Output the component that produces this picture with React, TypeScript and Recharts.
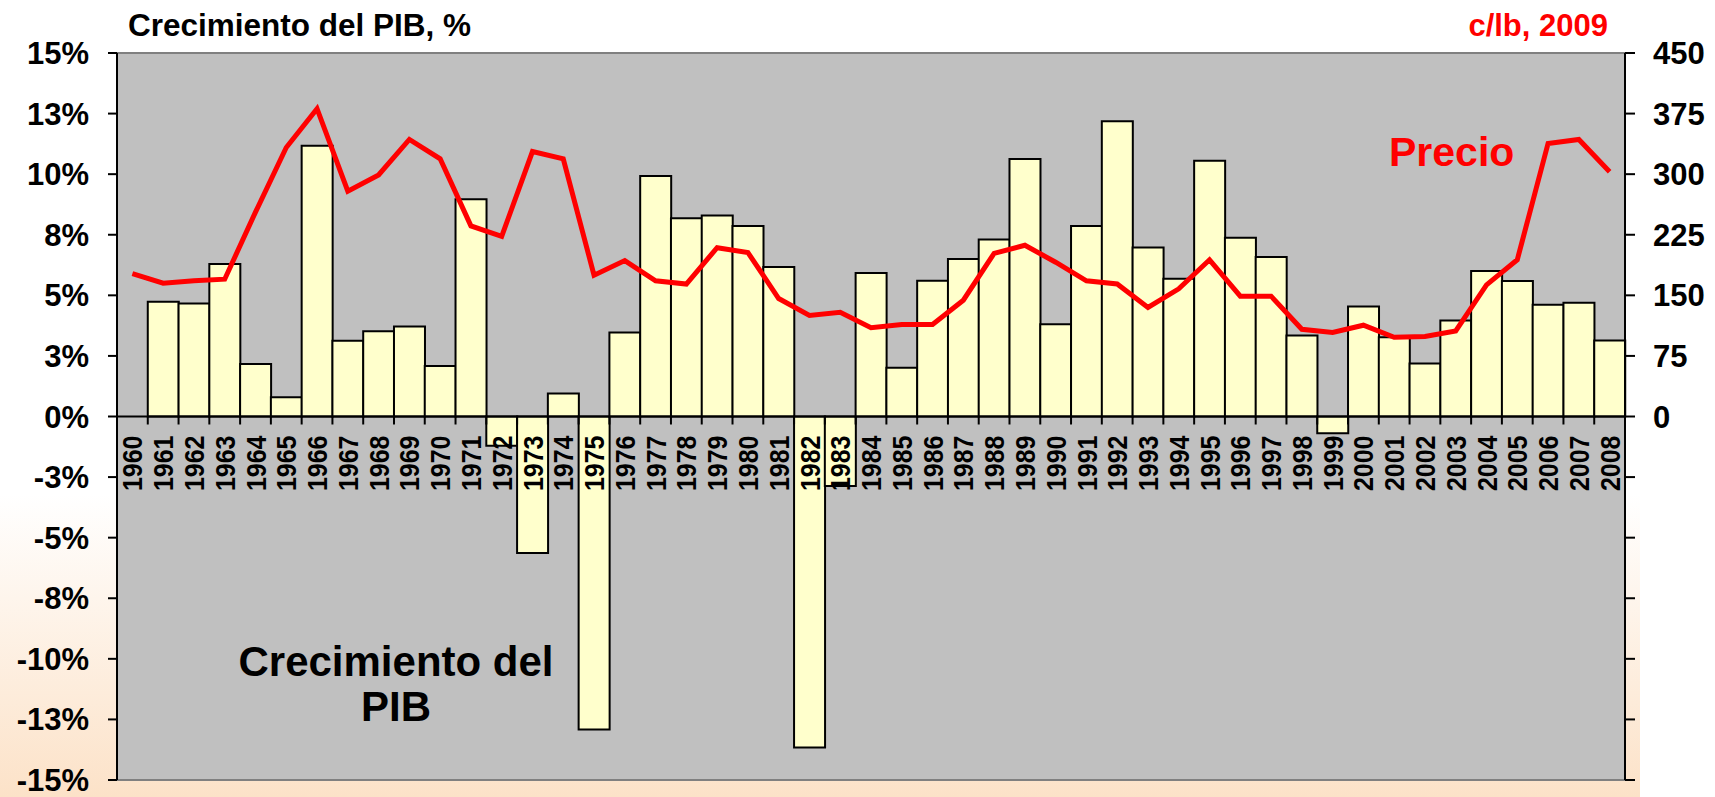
import { ComposedChart, Bar, Line, XAxis, YAxis, CartesianGrid, ReferenceLine, LabelList } from "recharts";

const years = [
  "1960", "1961", "1962", "1963", "1964", "1965", "1966", "1967", "1968", "1969",
  "1970", "1971", "1972", "1973", "1974", "1975", "1976", "1977", "1978", "1979",
  "1980", "1981", "1982", "1983", "1984", "1985", "1986", "1987", "1988", "1989",
  "1990", "1991", "1992", "1993", "1994", "1995", "1996", "1997", "1998", "1999",
  "2000", "2001", "2002", "2003", "2004", "2005", "2006", "2007", "2008",
];

// crecimiento del PIB, %
const gdp = [
  0, 4.74, 4.66, 6.29, 2.17, 0.79, 11.17, 3.13, 3.52, 3.71,
  2.08, 8.97, -1.21, -5.63, 0.95, -12.92, 3.47, 9.92, 8.18, 8.29,
  7.86, 6.17, -13.66, -2.87, 5.92, 2.01, 5.6, 6.5, 7.3, 10.63,
  3.81, 7.86, 12.18, 6.97, 5.68, 10.55, 7.38, 6.58, 3.34, -0.69,
  4.54, 3.27, 2.19, 3.96, 6.0, 5.59, 4.61, 4.69, 3.14,
];

// precio, c/lb 2009
const price = [
  177, 165, 168, 170, 253, 333, 381, 279, 299, 343,
  319, 236, 223, 328, 319, 175, 193, 168, 164, 209,
  203, 146, 125, 129, 110, 114, 114, 144, 202, 212,
  191, 168, 164, 135, 158, 194, 149, 149, 108, 104,
  113, 98, 99, 106, 163, 194, 338, 343, 303,
];

const leftTicks = [-15, -12.5, -10, -7.5, -5, -2.5, 0, 2.5, 5, 7.5, 10, 12.5, 15];
const rightTicks = [-450, -375, -300, -225, -150, -75, 0, 75, 150, 225, 300, 375, 450];

const data = years.map((year, i) => ({ year, gdp: gdp[i], price: price[i] }));

const FONT = "'Liberation Sans', Arial, sans-serif";
const W = 1715;
const H = 797;
const M_TOP = 53;
const M_BOTTOM = 17;
const LEFT_W = 117;
const RIGHT_W = 90;
const PLOT_H = H - M_TOP - M_BOTTOM;
const PLOT_W = W - LEFT_W - RIGHT_W;
// 0% sits in the middle of the symmetric -15..15 scale
const ZERO_Y = M_TOP + PLOT_H / 2;

const fmtPct = (v: number) => `${Math.sign(v) * Math.round(Math.abs(v))}%`;
const fmtPrice = (v: number) => (v >= 0 ? String(v) : "");

// category labels hang under the 0% line; x comes from the band scale via the line points
function YearLabel(props: any) {
  const cx = props.x ?? props.viewBox?.x;
  const half = PLOT_W / years.length / 2;
  const left = cx - half;
  return (
    <g>
      <line x1={left} x2={left} y1={ZERO_Y} y2={ZERO_Y + 8} stroke="#000" strokeWidth={2} />
      <text
        x={0}
        y={0}
        transform={`translate(${cx},${ZERO_Y + 19}) scale(1.12,1) rotate(-90)`}
        textAnchor="end"
        dy="0.36em"
        fontFamily={FONT}
        fontWeight={700}
        fontSize={25}
        fill="#000"
      >
        {props.value}
      </text>
    </g>
  );
}

export default function App() {
  return (
    <div style={{ position: "absolute", left: 0, top: 0, width: W, height: H, background: "#fff" }}>
      <div
        style={{
          position: "absolute",
          left: 0,
          top: 0,
          width: 1640,
          height: H,
          background: "linear-gradient(to bottom, rgba(252,228,204,0) 62%, rgba(252,226,200,1) 100%)",
        }}
      />
      <div style={{ position: "absolute", left: 0, top: 0 }}>
        <ComposedChart
          width={W}
          height={H}
          data={data}
          margin={{ top: M_TOP, right: 0, bottom: M_BOTTOM, left: 0 }}
          barCategoryGap={0}
          barGap={0}
        >
          <CartesianGrid fill="#c0c0c0" fillOpacity={1} horizontal={false} vertical={false} />
          <ReferenceLine yAxisId="left" y={15} stroke="#808080" strokeWidth={2} />
          <ReferenceLine yAxisId="left" y={-15} stroke="#808080" strokeWidth={2} />
          <XAxis dataKey="year" hide />
          <YAxis
            yAxisId="left"
            orientation="left"
            width={LEFT_W}
            domain={[-15, 15]}
            ticks={leftTicks}
            interval={0}
            tickFormatter={fmtPct}
            tickSize={9}
            tickMargin={19}
            axisLine={{ stroke: "#000", strokeWidth: 2 }}
            tickLine={{ stroke: "#000", strokeWidth: 2 }}
            tick={{ fill: "#000", fontSize: 31, fontWeight: 700, fontFamily: FONT }}
          />
          <YAxis
            yAxisId="right"
            orientation="right"
            width={RIGHT_W}
            domain={[-450, 450]}
            ticks={rightTicks}
            interval={0}
            tickFormatter={fmtPrice}
            tickSize={10}
            tickMargin={18}
            axisLine={{ stroke: "#000", strokeWidth: 2 }}
            tickLine={{ stroke: "#000", strokeWidth: 2 }}
            tick={{ fill: "#000", fontSize: 31, fontWeight: 700, fontFamily: FONT, textAnchor: "start" }}
          />
          <Bar
            yAxisId="left"
            dataKey="gdp"
            fill="#ffffcc"
            stroke="#000"
            strokeWidth={2}
            isAnimationActive={false}
          />
          <ReferenceLine yAxisId="left" y={0} stroke="#000" strokeWidth={2} />
          <Line
            yAxisId="right"
            dataKey="price"
            type="linear"
            stroke="#ff0000"
            strokeWidth={5}
            dot={false}
            isAnimationActive={false}
          >
            <LabelList dataKey="year" content={YearLabel} />
          </Line>
        </ComposedChart>
      </div>
      <svg
        width={W}
        height={H}
        style={{ position: "absolute", left: 0, top: 0, pointerEvents: "none" }}
        fontFamily={FONT}
        fontWeight={700}
      >
        <text x={128} y={36} fontSize={31.5} fill="#000">Crecimiento del PIB, %</text>
        <text x={1608} y={36} fontSize={31} fill="#ff0000" textAnchor="end">c/lb, 2009</text>
        <text x={1389} y={166} fontSize={41} fill="#ff0000">Precio</text>
        <text x={396} y={676} fontSize={42} fill="#000" textAnchor="middle">Crecimiento del</text>
        <text x={396} y={721} fontSize={42} fill="#000" textAnchor="middle">PIB</text>
      </svg>
    </div>
  );
}
